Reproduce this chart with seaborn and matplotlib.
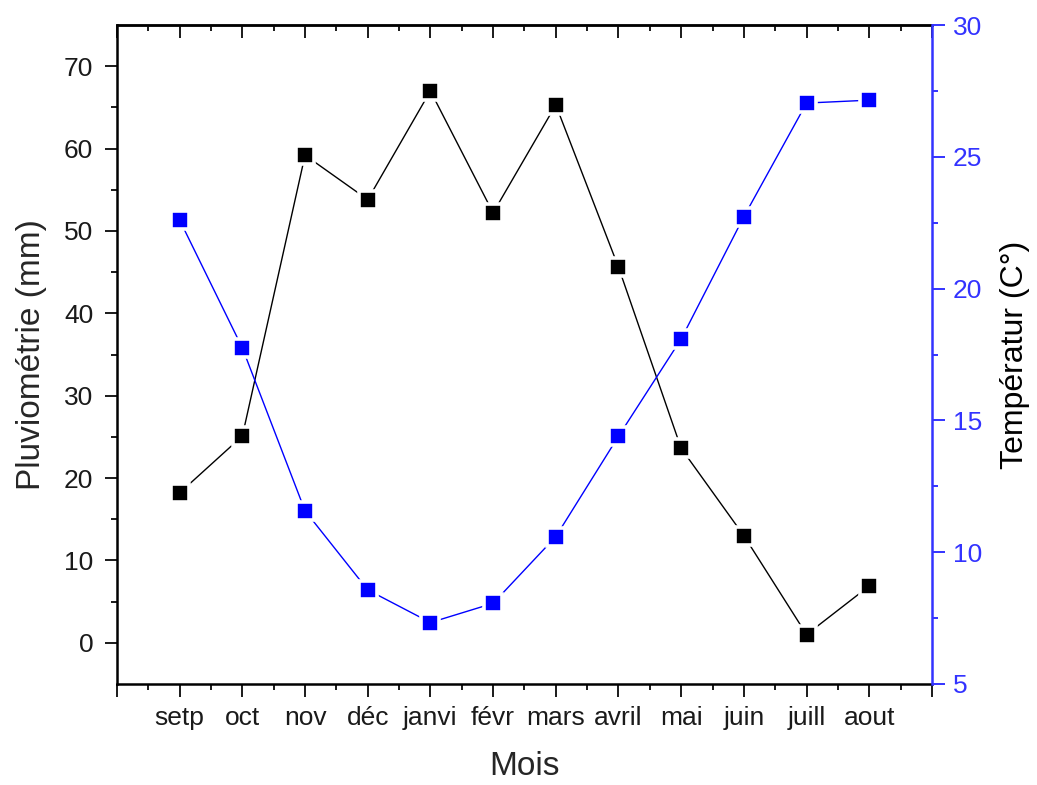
import numpy as np
import pandas as pd
import matplotlib
matplotlib.use("Agg")
import matplotlib.pyplot as plt
import seaborn as sns

# Monthly climate data (hydrological year, September to August)
months = ["setp", "oct", "nov", "déc", "janvi", "févr", "mars",
          "avril", "mai", "juin", "juill", "aout"]
pluvio_mm = [18.2, 25.1, 59.2, 53.8, 67.0, 52.2, 65.3, 45.6, 23.6, 13.0, 1.0, 6.9]
temp_c = [22.6, 17.75, 11.57, 8.57, 7.33, 8.06, 10.59, 14.40, 18.09, 22.73, 27.04, 27.15]

left_ticks = [0, 10, 20, 30, 40, 50, 60, 70]
right_ticks = [5, 10, 15, 20, 25, 30]

sns.set_style("ticks")
plt.rcParams["font.family"] = ["Liberation Sans", "DejaVu Sans"]

BLUE = "#0000FF"
AXIS_BLUE = "#3333FF"
INK = "#1a1a1a"

df = pd.DataFrame({"pos": np.arange(1, len(months) + 1),
                   "mois": months, "pluvio": pluvio_mm, "temp": temp_c})

fig = plt.figure(figsize=(10.37, 7.85), dpi=100)
ax = fig.add_axes([0.1128, 0.1287, 0.7859, 0.8394])
ax2 = ax.twinx()

marker_kw = dict(marker="s", markersize=13.5, markeredgecolor="white",
                 markeredgewidth=2.6, linewidth=1.0)
sns.lineplot(data=df, x="pos", y="pluvio", ax=ax, color="black", **marker_kw)
sns.lineplot(data=df, x="pos", y="temp", ax=ax2, color=BLUE, **marker_kw)

# x axis: months at every major tick, minor ticks in between
ax.set_xlim(0, len(months) + 1)
ax.set_xticks(np.arange(0, len(months) + 2))
ax.set_xticklabels([""] + months + [""])
ax.set_xticks(np.arange(0.5, len(months) + 1, 1.0), minor=True)

ax.set_ylim(-5, 75)
ax.set_yticks(left_ticks)
ax.set_yticks(np.arange(5, 70, 10), minor=True)

ax2.set_ylim(5, 30)
ax2.set_yticks(right_ticks)
ax2.set_yticks(np.arange(7.5, 30, 5), minor=True)

lw = 1.8
for s in ax.spines.values():
    s.set_linewidth(lw)
    s.set_color("black")
ax.spines["right"].set_visible(False)
for name, s in ax2.spines.items():
    s.set_linewidth(lw)
    s.set_visible(name == "right")
ax2.spines["right"].set_color(AXIS_BLUE)

ax.tick_params(axis="both", which="major", direction="out", length=9,
               width=1.4, labelsize=19, colors=INK)
ax.tick_params(axis="both", which="minor", direction="out", length=4.5,
               width=1.4, colors=INK)
ax.tick_params(axis="y", which="major", pad=8)
ax.tick_params(axis="x", which="major", pad=7)
ax2.tick_params(axis="y", which="major", direction="out", length=9,
                width=1.4, labelsize=19, colors=AXIS_BLUE, pad=6)
ax2.tick_params(axis="y", which="minor", direction="out", length=4.5,
                width=1.4, colors=AXIS_BLUE)

# inward ticks along the top frame
top = ax.secondary_xaxis("top")
top.set_xticks(np.arange(0, len(months) + 2))
top.set_xticks(np.arange(0.5, len(months) + 1, 1.0), minor=True)
top.set_xticklabels([])
top.tick_params(which="major", direction="in", length=9, width=1.4, colors=INK)
top.tick_params(which="minor", direction="in", length=4.5, width=1.4, colors=INK)
top.spines["top"].set_linewidth(lw)

ax.set_xlabel("Mois", fontsize=24, labelpad=15)
ax.set_ylabel("Pluviométrie (mm)", fontsize=24, labelpad=12)
ax2.set_ylabel("Températur (C°)", fontsize=23, labelpad=13, color="black")

ax.grid(False)
ax2.grid(False)

fig.savefig("out.png", dpi=100)
